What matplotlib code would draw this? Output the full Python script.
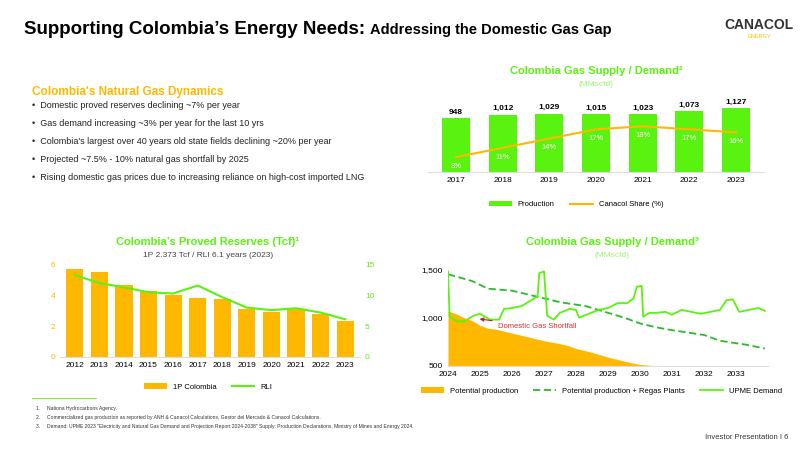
import matplotlib
matplotlib.use("Agg")
import matplotlib.pyplot as plt
import numpy as np

GREEN = "#5AF20F"
ORANGE = "#FFB800"
plt.rcParams['font.family'] = ['Liberation Sans', 'DejaVu Sans']

years1 = ["2017", "2018", "2019", "2020", "2021", "2022", "2023"]
production = [948, 1012, 1029, 1015, 1023, 1073, 1127]
share = [8, 11, 14, 17, 18, 17, 16]

years2 = ["2012", "2013", "2014", "2015", "2016", "2017", "2018", "2019", "2020", "2021", "2022", "2023"]
reserves = [5.7, 5.5, 4.7, 4.3, 4.0, 3.85, 3.75, 3.1, 2.9, 3.1, 2.8, 2.35]
rli = [13.3, 12.0, 11.3, 10.5, 10.3, 11.6, 9.7, 8.0, 7.6, 7.9, 7.2, 6.1]

pot_x = [2024.0, 2024.25, 2024.5, 2024.75, 2025.0, 2025.25, 2025.5, 2025.75, 2026.0, 2026.25, 2026.5,
         2026.75, 2027.0, 2027.25, 2027.5, 2027.75, 2028.0, 2028.25, 2028.5, 2028.75, 2029.0, 2029.25,
         2029.5, 2029.75, 2030.0, 2030.5, 2031.0, 2032.0, 2033.0, 2033.9]
pot_y = [1070, 1040, 1000, 970, 920, 890, 880, 860, 840, 820, 800, 780, 760, 745, 730, 710, 680, 660,
         640, 615, 590, 570, 550, 530, 515, 500, 490, 480, 480, 480]
regas_x = [2024.0, 2024.75, 2025.25, 2026.0, 2026.5, 2027.0, 2027.5, 2028.3, 2029.0, 2029.5, 2030.0,
           2030.5, 2031.0, 2032.0, 2032.5, 2033.3, 2033.9]
regas_y = [1450, 1380, 1300, 1280, 1240, 1200, 1160, 1120, 1050, 1000, 940, 900, 870, 820, 760, 720, 680]
upme_x = [2024.0, 2024.05, 2024.3, 2024.5, 2024.8, 2025.0, 2025.3, 2025.6, 2025.75, 2026.0, 2026.3,
          2026.7, 2026.8, 2026.85, 2027.0, 2027.1, 2027.3, 2027.5, 2027.8, 2028.0, 2028.1, 2028.4,
          2028.7, 2029.0, 2029.3, 2029.6, 2029.8, 2029.9, 2030.05, 2030.1, 2030.3, 2030.5, 2030.8,
          2031.0, 2031.3, 2031.6, 2031.9, 2032.2, 2032.5, 2032.7, 2032.9, 2033.1, 2033.4, 2033.7, 2033.9]
upme_y = [1480, 1010, 960, 960, 1020, 1040, 980, 980, 1090, 1100, 1120, 1200, 1220, 1460, 1480, 1020,
          980, 1050, 1090, 1080, 1000, 1040, 1080, 1100, 1150, 1150, 1200, 1320, 1330, 1010, 1050,
          1050, 1060, 1030, 1080, 1060, 1040, 1060, 1080, 1180, 1190, 1060, 1080, 1100, 1070]
years3 = list(range(2024, 2034))

fig = plt.figure(figsize=(8, 4.5), dpi=100)
fig.patch.set_facecolor("white")

t1 = fig.text(0.03, 0.925, "Supporting Colombia’s Energy Needs:", fontsize=13.5, fontweight="bold", va="baseline")
fig.canvas.draw()
bb = t1.get_window_extent(fig.canvas.get_renderer())
x_end = bb.x1 / fig.bbox.width
fig.text(x_end + 0.006, 0.925, "Addressing the Domestic Gas Gap", fontsize=10.5, fontweight="bold", va="baseline")
fig.text(0.905, 0.945, "CANACOL", fontsize=10, fontweight="bold", color="#333333", va="center")
fig.text(0.935, 0.918, "ENERGY", fontsize=4, color=ORANGE, va="center")

fig.text(0.04, 0.79, "Colombia's Natural Gas Dynamics", fontsize=8.5, fontweight="bold", color=ORANGE)
bullets = ["Domestic proved reserves declining ~7% per year",
           "Gas demand increasing ~3% per year for the last 10 yrs",
           "Colombia's largest over 40 years old state fields declining ~20% per year",
           "Projected ~7.5% - 10% natural gas shortfall by 2025",
           "Rising domestic gas prices due to increasing reliance on high-cost imported LNG"]
for i, b in enumerate(bullets):
    fig.text(0.04, 0.765 - i * 0.04, "•  " + b, fontsize=6.5, color="#222222", va="center")

# Chart 1
ax1 = fig.add_axes([0.535, 0.618, 0.42, 0.17])
x1 = np.arange(len(years1))
ax1.bar(x1, production, width=0.6, color=GREEN, label="Production")
for xi, v in zip(x1, production):
    ax1.text(xi, v + 40, f"{v:,}", ha="center", va="bottom", fontsize=6, fontweight="bold")
ax1.set_ylim(0, 1350)
ax1.set_xlim(-0.6, len(years1) - 0.4)
ax1.set_yticks([])
ax1.set_xticks(x1, years1, fontsize=6)
ax1.tick_params(axis="x", length=0)
for s in ["top", "right", "left"]:
    ax1.spines[s].set_visible(False)
ax1.spines["bottom"].set_color("#dddddd")
ax1b = ax1.twinx()
ax1b.plot(x1, share, color=ORANGE, lw=1.5, label="Canacol Share (%)")
ax1b.set_ylim(3.2, 28)
ax1b.axis("off")
for xi, v in zip(x1, share):
    ax1b.text(xi, v - 3, f"{v}%", ha="center", va="center", fontsize=5.5, color="white")
fig.text(0.745, 0.835, "Colombia Gas Supply / Demand²", fontsize=8, fontweight="bold", color=GREEN, ha="center")
fig.text(0.745, 0.808, "(MMscfd)", fontsize=6, color=GREEN, ha="center", alpha=0.6)
h1, l1 = ax1.get_legend_handles_labels()
h2, l2 = ax1b.get_legend_handles_labels()
fig.legend(h1 + h2, l1 + l2, loc="center", bbox_to_anchor=(0.72, 0.545), ncol=2, frameon=False,
           fontsize=5.5, handlelength=3)

# Chart 2
ax2 = fig.add_axes([0.075, 0.207, 0.375, 0.205])
x2 = np.arange(len(years2))
ax2.bar(x2, reserves, width=0.7, color=ORANGE, label="1P Colombia")
ax2.set_ylim(0, 6)
ax2.set_yticks([0, 2, 4, 6])
ax2.set_xlim(-0.6, len(years2) - 0.4)
ax2.set_xticks(x2, years2, fontsize=6)
ax2.tick_params(axis="y", length=0, labelsize=6, labelcolor=ORANGE)
ax2.tick_params(axis="x", length=0)
for s in ["top", "right", "left"]:
    ax2.spines[s].set_visible(False)
ax2.spines["bottom"].set_color("#dddddd")
ax2b = ax2.twinx()
ax2b.plot(x2, rli, color=GREEN, lw=1.5, label="RLI")
ax2b.set_ylim(0, 15)
ax2b.set_yticks([0, 5, 10, 15])
ax2b.tick_params(axis="y", length=0, labelsize=6, labelcolor=GREEN)
for s in ax2b.spines.values():
    s.set_visible(False)
fig.text(0.26, 0.455, "Colombia’s Proved Reserves (Tcf)¹", fontsize=8, fontweight="bold", color=GREEN, ha="center")
fig.text(0.26, 0.428, "1P 2.373 Tcf / RLI 6.1 years (2023)", fontsize=6, color="#444444", ha="center")
h1, l1 = ax2.get_legend_handles_labels()
h2, l2 = ax2b.get_legend_handles_labels()
fig.legend(h1 + h2, l1 + l2, loc="center", bbox_to_anchor=(0.26, 0.14), ncol=2, frameon=False,
           fontsize=5.5, handlelength=3)

# Chart 3
ax3 = fig.add_axes([0.56, 0.187, 0.40, 0.225])
ax3.fill_between(pot_x, 500, pot_y, color=ORANGE, lw=0, label="Potential production")
ax3.plot(regas_x, regas_y, color="#2DB82D", lw=1.3, ls=(0, (4, 2)), label="Potential production + Regas Plants")
ax3.plot(upme_x, upme_y, color=GREEN, lw=1.3, label="UPME Demand")
ax3.set_ylim(500, 1550)
ax3.set_xlim(2024, 2034)
ax3.set_yticks([500, 1000, 1500], ["500", "1,000", "1,500"])
ax3.set_xticks(years3, [str(y) for y in years3])
ax3.tick_params(labelsize=6, length=0)
for s in ["top", "right", "left"]:
    ax3.spines[s].set_visible(False)
ax3.spines["bottom"].set_color("#dddddd")
ax3.annotate("Domestic Gas Shortfall", xy=(2024.9, 990), xytext=(2025.55, 905), fontsize=5.5, color="#E03030",
             va="center", arrowprops=dict(arrowstyle="-|>", color="#C02020", lw=0.8))
fig.text(0.765, 0.455, "Colombia Gas Supply / Demand³", fontsize=8, fontweight="bold", color=GREEN, ha="center")
fig.text(0.765, 0.428, "(MMscfd)", fontsize=6, color=GREEN, ha="center", alpha=0.6)
ax3.legend(loc="center", bbox_to_anchor=(0.48, -0.25), ncol=3, frameon=False, fontsize=5.5, handlelength=3)

# Footnotes
fig.add_artist(plt.Line2D([0.04, 0.12], [0.115, 0.115], color=GREEN, lw=0.6))
notes = ["1.     Nationa Hydrocarbons Agency.",
         "2.     Commercialized gas production as reported by ANH & Canacol Calculations, Gestor del Mercado & Canacol Calculations.",
         "3.     Demand: UPME 2023 \"Electricity and Natural Gas Demand and Projection Report 2024-2038\" Supply: Production Declarations, Ministry of Mines and Energy 2024."]
for i, n in enumerate(notes):
    fig.text(0.045, 0.093 - i * 0.02, n, fontsize=3.6, color="#333333", va="center")
fig.text(0.985, 0.025, "Investor Presentation I 6", fontsize=5.5, ha="right", color="#333333")

fig.savefig("out.png", dpi=100)
